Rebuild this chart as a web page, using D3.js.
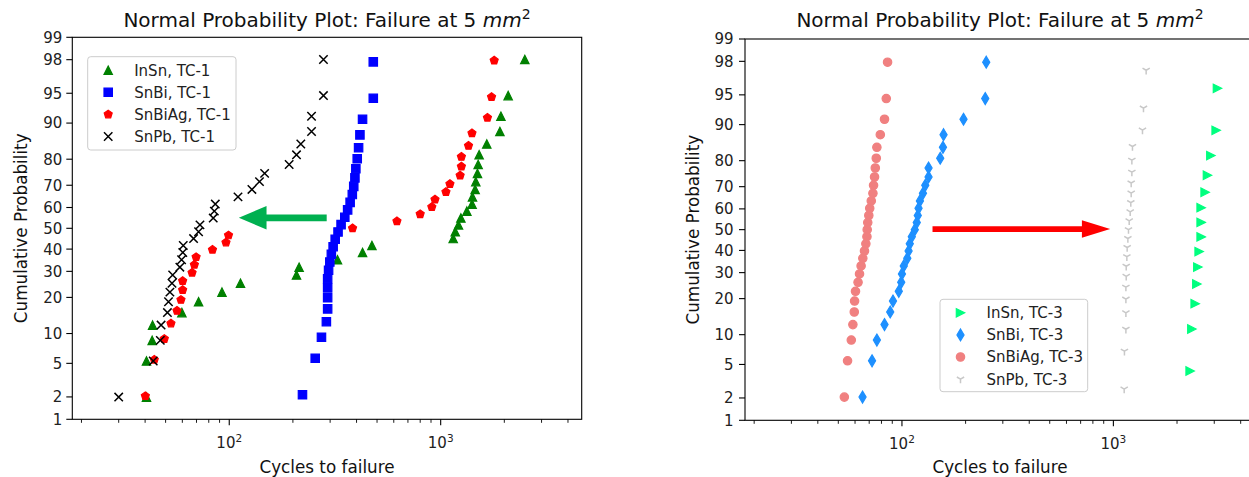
<!DOCTYPE html>
<html><head><meta charset="utf-8">
<script src="https://cdn.jsdelivr.net/npm/d3@7"></script>
<style>
body{margin:0;background:#fff;}
svg{display:block;font-family:"DejaVu Sans",sans-serif;}
</style>
</head><body>
<svg id="c" width="1249" height="477"></svg>
<script>
// ---------------- data ----------------
const probTicks = [1,2,5,10,20,30,40,50,60,70,80,90,95,98,99];
const xMajorTicks = [100, 1000];
const xMinorTicks = [20,30,40,50,60,70,80,90,200,300,400,500,600,700,800,900,2000,3000,4000];
const xDomain = [18.1, 4645];

// TC-1 (left)
const insnTC1Cycles = [40.6,40.6,43.2,43.4,59.7,71.6,92.4,113,208,214,325,427,473,1146,1172,1214,1246,1330,1408,1414,1455,1466,1493,1504,1520,1652,1906,1927,2085,2500];
const insnTC1Prob   = [1.99,5.30,8.61,11.92,15.23,18.54,21.85,25.17,28.48,31.79,35.10,38.41,41.72,45.03,48.34,51.66,54.97,58.28,61.59,64.90,68.21,71.52,74.83,78.15,81.46,84.77,88.08,91.39,94.70,98.01];
const snbiTC1Cycles = [222,255,273,288,292,292,292,292,295,299,304,310,317,327,338,352,363,373,382,388,393,397,403,409,415,427,480,480];
const snbiTC1Prob   = [2.13,5.67,9.22,12.77,16.31,19.86,23.40,26.95,30.50,34.04,37.59,41.13,44.68,48.23,51.77,55.32,58.87,62.41,65.96,69.50,73.05,76.60,80.14,83.69,87.23,90.78,94.33,97.87];
const snbiagTC1Cycles = [40.1,44.2,49.3,53.0,56.6,59.1,60.2,60.2,66.7,68.4,69.7,83.3,96.5,99.2,383,621,800,908,940,1059,1106,1236,1253,1253,1354,1406,1664,1740,1791];
const snbiagTC1Prob   = [2.05,5.48,8.90,12.33,15.75,19.18,22.60,26.03,29.45,32.88,36.30,39.73,43.15,46.58,50.00,53.42,56.85,60.27,63.70,67.12,70.55,73.97,77.40,80.82,84.25,87.67,91.10,94.52,97.95];
const snpbTC1Cycles = [30.0,43.7,47.2,47.6,51.0,51.6,52.4,53.6,54.0,58.4,59.5,60.3,60.6,67.8,71.6,72.7,84,85,85.9,110,128,139,147,192,208,218,245,245,279,279];
const snpbTC1Prob   = [1.99,5.30,8.61,11.92,15.23,18.54,21.85,25.17,28.48,31.79,35.10,38.41,41.72,45.03,48.34,51.66,54.97,58.28,61.59,64.90,68.21,71.52,74.83,78.15,81.46,84.77,88.08,91.39,94.70,98.01];

// TC-3 (right)
const insnTC3Cycles = [2307,2351,2437,2482,2509,2545,2601,2601,2601,2716,2786,2891,3063,3107];
const insnTC3Prob   = [4.23,11.27,18.31,25.35,32.39,39.44,46.48,53.52,60.56,67.61,74.65,81.69,88.73,95.77];
const snbiTC3Cycles = [65.1,72.2,76.1,82.7,88.0,90.7,96.6,99.2,100,102,106,107.5,108.9,111.3,115,117.5,118.8,119.8,121.6,125.7,128.9,133.6,133.6,151.7,156.3,157.3,195.5,247.7,250.4];
const snbiTC3Prob   = [2.05,5.48,8.90,12.33,15.75,19.18,22.60,26.03,29.45,32.88,36.30,39.73,43.15,46.58,50.00,53.42,56.85,60.27,63.70,67.12,70.55,73.97,77.40,80.82,84.25,87.67,91.10,94.52,97.95];
const snbiagTC3Cycles = [53.4,55.3,57.6,58.6,59.5,59.7,60.3,62.0,63.0,64.1,65.3,66.5,67.5,68.3,68.5,68.9,69.7,70.4,71.6,72.9,73.4,74.2,74.8,75.6,76.1,79.0,82.7,84.3,85.5];
const snbiagTC3Prob   = [2.05,5.48,8.90,12.33,15.75,19.18,22.60,26.03,29.45,32.88,36.30,39.73,43.15,46.58,50.00,53.42,56.85,60.27,63.70,67.12,70.55,73.97,77.40,80.82,84.25,87.67,91.10,94.52,97.95];
const snpbTC3Cycles = [1125,1128,1146,1146,1146,1146,1150,1150,1158,1162,1171,1179,1188,1201,1209,1214,1214,1223,1223,1231,1373,1388,1429];
const snpbTC3Prob   = [2.59,6.90,11.21,15.52,19.83,24.14,28.45,32.76,37.07,41.38,45.69,50.00,54.31,58.62,62.93,67.24,71.55,75.86,80.17,84.48,88.79,93.10,97.41];

// arrows (data coordinates: cycles, probability)
const arrowTC1 = {from:[289, 55.1], to:[111, 55.1]};
const arrowTC3 = {from:[139.5, 50.3], to:[966, 50.3]};

// ---------------- helpers ----------------
function probit(p){
  const a=[-3.969683028665376e+01,2.209460984245205e+02,-2.759285104469687e+02,1.383577518672690e+02,-3.066479806614716e+01,2.506628277459239e+00];
  const b=[-5.447609879822406e+01,1.615858368580409e+02,-1.556989798598866e+02,6.680131188771972e+01,-1.328068155288572e+01];
  const c=[-7.784894002430293e-03,-3.223964580411365e-01,-2.400758277161838e+00,-2.549732539343734e+00,4.374664141464968e+00,2.938163982698783e+00];
  const d=[7.784695709041462e-03,3.224671290700398e-01,2.445134137142996e+00,3.754408661907416e+00];
  const pl=0.02425, ph=1-pl; let q,r;
  if(p<pl){q=Math.sqrt(-2*Math.log(p));return (((((c[0]*q+c[1])*q+c[2])*q+c[3])*q+c[4])*q+c[5])/((((d[0]*q+d[1])*q+d[2])*q+d[3])*q+1);}
  if(p>ph){q=Math.sqrt(-2*Math.log(1-p));return -(((((c[0]*q+c[1])*q+c[2])*q+c[3])*q+c[4])*q+c[5])/((((d[0]*q+d[1])*q+d[2])*q+d[3])*q+1);}
  q=p-0.5;r=q*q;
  return (((((a[0]*r+a[1])*r+a[2])*r+a[3])*r+a[4])*r+a[5])*q/(((((b[0]*r+b[1])*r+b[2])*r+b[3])*r+b[4])*r+1);
}

const MS = 8.4;
function markerPath(type, s){
  const h = s/2;
  switch(type){
    case 'triUp': return `M0,${-h}L${h},${h}L${-h},${h}Z`;
    case 'triRight': return `M${h},0L${-h},${-h}L${-h},${h}Z`;
    case 'square': return `M${-h},${-h}h${s}v${s}h${-s}Z`;
    case 'pentagon': {
      let p='';
      for(let k=0;k<5;k++){const ang=(-90+72*k)*Math.PI/180;p+=(k?'L':'M')+(h*Math.cos(ang)).toFixed(3)+','+(h*Math.sin(ang)).toFixed(3);}
      return p+'Z';
    }
    case 'circle': return `M${h},0A${h},${h} 0 1,1 ${-h},0A${h},${h} 0 1,1 ${h},0Z`;
    case 'thinDiamond': { const a=s*0.7071; return `M0,${-a}L${0.6*a},0L0,${a}L${-0.6*a},0Z`; }
    case 'x': return `M${-h},${-h}L${h},${h}M${-h},${h}L${h},${-h}`;
    case 'triDown': return `M0,0L0,${h}M0,0L${-0.866*h},${-0.5*h}M0,0L${0.866*h},${-0.5*h}`;
  }
}
const lineMarkers = new Set(['x','triDown']);
function styleMarker(sel, type, color){
  if(lineMarkers.has(type)) sel.attr('fill','none').attr('stroke',color).attr('stroke-width',1.5);
  else sel.attr('fill',color).attr('stroke',color).attr('stroke-width',1.2).attr('stroke-linejoin','miter');
}

const svg = d3.select('#c');
svg.append('rect').attr('width',1249).attr('height',477).attr('fill','#fff');

const panels = [
  {
    xr:[72.3, 581.7], yr:[419.3, 37.3], cx:327,
    series:[
      {label:'InSn, TC-1', cycles:insnTC1Cycles, prob:insnTC1Prob, type:'triUp', color:'#008000'},
      {label:'SnBi, TC-1', cycles:snbiTC1Cycles, prob:snbiTC1Prob, type:'square', color:'#0000ff'},
      {label:'SnBiAg, TC-1', cycles:snbiagTC1Cycles, prob:snbiagTC1Prob, type:'pentagon', color:'#ff0000'},
      {label:'SnPb, TC-1', cycles:snpbTC1Cycles, prob:snpbTC1Prob, type:'x', color:'#000000'}
    ],
    legend:{x:87.7, y:56.7, w:148.3, h:93.3},
    arrow:arrowTC1, arrowColor:'#00b050', shaft:6.7, headLen:27.7, headHalf:11.7,
    ylabX:26.5, tickGap:10
  },
  {
    xr:[745, 1254.4], yr:[420.3, 39], cx:1000,
    series:[
      {label:'InSn, TC-3', cycles:insnTC3Cycles, prob:insnTC3Prob, type:'triRight', color:'#00ff7f'},
      {label:'SnBi, TC-3', cycles:snbiTC3Cycles, prob:snbiTC3Prob, type:'thinDiamond', color:'#1e90ff'},
      {label:'SnBiAg, TC-3', cycles:snbiagTC3Cycles, prob:snbiagTC3Prob, type:'circle', color:'#f08080'},
      {label:'SnPb, TC-3', cycles:snpbTC3Cycles, prob:snpbTC3Prob, type:'triDown', color:'#c8c8c8'}
    ],
    legend:{x:940, y:299.3, w:147.7, h:92.4},
    arrow:arrowTC3, arrowColor:'#ff0000', shaft:5.7, headLen:28.3, headHalf:8.7,
    ylabX:698.5, tickGap:11.5
  }
];

panels.forEach(P=>{
  const g = svg.append('g');
  const x = d3.scaleLog().domain(xDomain).range(P.xr);
  const zScale = d3.scaleLinear().domain([probit(0.01), probit(0.99)]).range(P.yr);
  const y = v => zScale(probit(v/100));
  const [x0,x1] = P.xr, [yb,yt] = P.yr;

  // data
  P.series.forEach(s=>{
    const pts = s.cycles.map((c,i)=>[c, s.prob[i]]);
    const sel = g.append('g').selectAll('path').data(pts).join('path')
      .attr('d', markerPath(s.type, MS))
      .attr('transform', d=>`translate(${x(d[0])},${y(d[1])})`);
    styleMarker(sel, s.type, s.color);
  });

  // spines
  g.append('rect').attr('x',x0).attr('y',yt).attr('width',x1-x0).attr('height',yb-yt)
    .attr('fill','none').attr('stroke','#000').attr('stroke-width',1.1);

  // y ticks
  probTicks.forEach(t=>{
    const yy = y(t);
    g.append('line').attr('x1',x0-6).attr('x2',x0).attr('y1',yy).attr('y2',yy).attr('stroke','#000').attr('stroke-width',1.1);
    g.append('text').attr('x',x0-P.tickGap).attr('y',yy).attr('dy','0.36em').attr('text-anchor','end')
      .attr('font-size',15).attr('fill','#222').text(t);
  });
  // x ticks
  xMinorTicks.forEach(t=>{
    const xx = x(t);
    if(xx>1249) return;
    g.append('line').attr('x1',xx).attr('x2',xx).attr('y1',yb).attr('y2',yb+3.5).attr('stroke','#000').attr('stroke-width',0.9);
  });
  xMajorTicks.forEach(t=>{
    const xx = x(t);
    g.append('line').attr('x1',xx).attr('x2',xx).attr('y1',yb).attr('y2',yb+6).attr('stroke','#000').attr('stroke-width',1.1);
    const tx = g.append('text').attr('x',xx).attr('y',yb+29).attr('text-anchor','middle').attr('font-size',15).attr('fill','#222');
    tx.append('tspan').text('10');
    tx.append('tspan').attr('dy',-6.5).attr('font-size',10.5).text(String(Math.round(Math.log10(t))));
  });

  // title
  const tt = g.append('text').attr('x',P.cx).attr('y',26.5).attr('text-anchor','middle').attr('font-size',20).attr('fill','#111');
  tt.append('tspan').text('Normal Probability Plot: Failure at 5 ');
  tt.append('tspan').attr('font-style','italic').text('mm');
  tt.append('tspan').attr('dy',-8).attr('font-size',14).text('2');

  // axis labels
  g.append('text').attr('x',P.cx).attr('y',473).attr('text-anchor','middle').attr('font-size',16.8).attr('fill','#111').text('Cycles to failure');
  g.append('text').attr('transform',`translate(${P.ylabX},${(yb+yt)/2}) rotate(-90)`).attr('text-anchor','middle')
    .attr('font-size',16.8).attr('fill','#111').text('Cumulative Probability');

  // legend
  const L = P.legend;
  const lg = g.append('g');
  lg.append('rect').attr('x',L.x).attr('y',L.y).attr('width',L.w).attr('height',L.h).attr('rx',3)
    .attr('fill','#fff').attr('fill-opacity',0.8).attr('stroke','#cccccc').attr('stroke-width',1);
  P.series.forEach((s,i)=>{
    const ry = L.y + 13.5 + i*22.1;
    const m = lg.append('path').attr('d',markerPath(s.type, MS)).attr('transform',`translate(${L.x+20.5},${ry})`);
    styleMarker(m, s.type, s.color);
    lg.append('text').attr('x',L.x+46.5).attr('y',ry).attr('dy','0.36em').attr('font-size',15).attr('fill','#222').text(s.label);
  });

  // arrow
  const A = P.arrow;
  const ax0 = x(A.from[0]), ax1 = x(A.to[0]), ay = y(A.from[1]);
  const dir = Math.sign(ax1-ax0);
  const hb = ax1 - dir*P.headLen, sw = P.shaft/2;
  g.append('path').attr('fill',P.arrowColor)
    .attr('d',`M${ax0},${ay-sw}L${hb},${ay-sw}L${hb},${ay-P.headHalf}L${ax1},${ay}L${hb},${ay+P.headHalf}L${hb},${ay+sw}L${ax0},${ay+sw}Z`);
});
</script>
</body></html>
